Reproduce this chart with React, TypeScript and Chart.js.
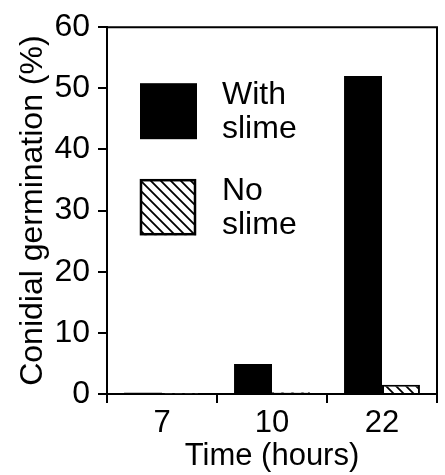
import React, { useEffect, useRef } from "react";
import { Chart, registerables } from "chart.js";

Chart.register(...registerables);

const categories = ["7", "10", "22"];
const withSlime = [0.2, 4.9, 52.0];
const noSlime = [0.1, 0.3, 1.5];
const seriesNames = ["With slime", "No slime"];
const yTicks = [0, 10, 20, 30, 40, 50, 60];
const xTitle = "Time (hours)";
const yTitle = "Conidial germination (%)";

const FONT = "'Liberation Sans', Arial, Helvetica, sans-serif";

function makeHatch(): CanvasPattern | string {
  const c = document.createElement("canvas");
  const s = 10;
  c.width = s;
  c.height = s;
  const ctx = c.getContext("2d");
  if (!ctx) return "#fff";
  ctx.fillStyle = "#fff";
  ctx.fillRect(0, 0, s, s);
  ctx.strokeStyle = "#000";
  ctx.lineWidth = 1.8;
  ctx.beginPath();
  ctx.moveTo(-2, -2);
  ctx.lineTo(s + 2, s + 2);
  ctx.moveTo(-2, s - 2);
  ctx.lineTo(2, s + 2);
  ctx.moveTo(s - 2, -2);
  ctx.lineTo(s + 2, 2);
  ctx.stroke();
  const p = ctx.createPattern(c, "repeat");
  return p || "#fff";
}

export default function App() {
  const ref = useRef<HTMLCanvasElement | null>(null);

  useEffect(() => {
    if (!ref.current) return;
    const hatch = makeHatch();

    const framePlugin = {
      id: "frame",
      afterDraw(chart: any) {
        const { ctx, chartArea } = chart;
        ctx.save();
        ctx.strokeStyle = "#000";
        ctx.lineWidth = 2;
        ctx.beginPath();
        ctx.moveTo(chartArea.left, chartArea.top);
        ctx.lineTo(chartArea.right, chartArea.top);
        ctx.lineTo(chartArea.right, chartArea.bottom);
        ctx.stroke();

        // legend
        const ds = chart.data.datasets;
        const bx = chartArea.left + 33;
        const bw = 56;
        const rows = [chartArea.top + 56, chartArea.top + 152];
        ds.forEach((d: any, i: number) => {
          const y = rows[i];
          if (i === 0) {
            ctx.fillStyle = "#000";
            ctx.fillRect(bx, y, bw + 1, bw);
          } else {
            ctx.fillStyle = hatch;
            ctx.fillRect(bx, y, bw, bw);
            ctx.lineWidth = 2.5;
            ctx.strokeStyle = "#000";
            ctx.strokeRect(bx + 1, y + 1, bw - 2, bw - 2);
          }
          const words = String(d.label).split(" ");
          ctx.fillStyle = "#000";
          ctx.font = `32px ${FONT}`;
          ctx.textAlign = "left";
          ctx.textBaseline = "alphabetic";
          ctx.fillText(words[0], bx + 82, y + 21);
          ctx.fillText(words.slice(1).join(" "), bx + 82, y + 55);
        });
        ctx.restore();
      },
    };

    const chart = new Chart(ref.current, {
      type: "bar",
      data: {
        labels: categories,
        datasets: [
          {
            label: seriesNames[0],
            data: withSlime,
            backgroundColor: "#000",
            borderWidth: 0,
            categoryPercentage: 0.69,
            barPercentage: 1.0,
          },
          {
            label: seriesNames[1],
            data: noSlime,
            backgroundColor: hatch as any,
            borderColor: "#000",
            borderWidth: 2,
            categoryPercentage: 0.69,
            barPercentage: 1.0,
          },
        ],
      },
      options: {
        animation: false,
        responsive: false,
        maintainAspectRatio: false,
        layout: { padding: { top: 26, right: 8, left: 0, bottom: 0 } },
        plugins: {
          legend: { display: false },
          tooltip: { enabled: false },
        },
        scales: {
          x: {
            grid: {
              offset: true,
              drawOnChartArea: false,
              drawTicks: true,
              tickLength: 9,
              color: "#000",
              lineWidth: 2,
            },
            border: { display: true, color: "#000", width: 2 },
            ticks: {
              color: "#000",
              font: { family: FONT, size: 31 },
              padding: 2,
              maxRotation: 0,
              autoSkip: false,
            },
            title: {
              display: true,
              text: xTitle,
              color: "#000",
              font: { family: FONT, size: 31 },
              padding: { top: 0, bottom: 0 },
            },
            afterFit(scale: any) {
              scale.height = 81;
            },
          },
          y: {
            min: 0,
            max: 60,
            afterBuildTicks(scale: any) {
              scale.ticks = yTicks.map((v) => ({ value: v }));
            },
            grid: {
              drawOnChartArea: false,
              drawTicks: true,
              tickLength: 9,
              color: "#000",
              lineWidth: 2,
            },
            border: { display: true, color: "#000", width: 2 },
            ticks: {
              color: "#000",
              font: { family: FONT, size: 32 },
              padding: 8,
            },
            title: {
              display: true,
              text: yTitle,
              color: "#000",
              font: { family: FONT, size: 32 },
              padding: { top: 14, bottom: 0 },
            },
            afterFit(scale: any) {
              scale.width = 107;
            },
          },
        },
      },
      plugins: [framePlugin],
    });
    return () => chart.destroy();
  }, []);

  return (
    <div style={{ position: "absolute", left: 0, top: 0, width: 445, height: 475, background: "#fff" }}>
      <canvas ref={ref} width={445} height={475} />
    </div>
  );
}
